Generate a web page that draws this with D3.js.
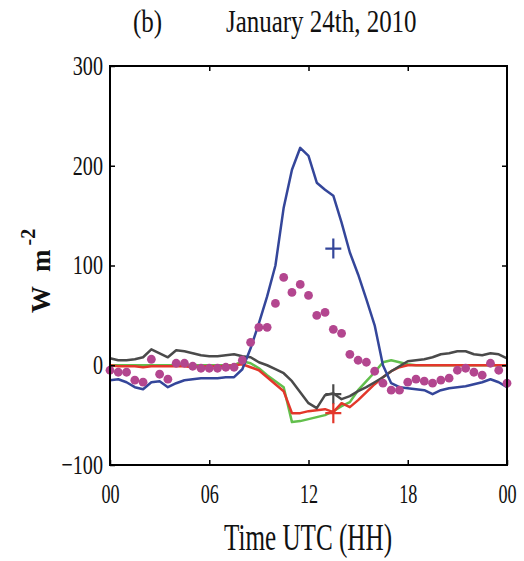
<!DOCTYPE html>
<html>
<head>
<meta charset="utf-8">
<script src="https://cdn.jsdelivr.net/npm/d3@7"></script>
<style>
  body { margin: 0; background: #fff; }
  text { font-family: "Liberation Serif", "Times New Roman", serif; fill: #111; }
</style>
</head>
<body>
<div id="roott"></div>
<script>

// DATA (half hourly, UTC)
let hours = [0,0.5,1,1.5,2,2.5,3,3.5,4,4.5,5,5.5,6,6.5,7,7.5,8,8.5,9,9.5,10,10.5,11,11.5,
  12,12.5,13,13.5,14,14.5,15,15.5,16,16.5,17,17.5,18,18.5,19,19.5,20,20.5,21,21.5,22,22.5,23,23.5,24];

let blueVals = [-15,-14,-17,-22,-24,-17,-16,-22,-18,-15,-14,-13,-13,-13,-12,-12,-4,17,42,69,
  100,158,196,218,210,183,176,170,143,113,91,66,40,0,-18,-22,-23,-24,-25,-29,-25,-23,-22,-21,-19,-17,-14,-17,-22];

let grayVals = [7,5,5,6,8,16,12,8,15,14,12,10,9,9,10,11,9,8,3,0,-4,-8,-16,-27,-38,-43,-30,-28,
  -34,-31,-26,-22,-17,-12,-6,-1,4,5,6,8,11,12,14,14,11,10,12,11,7];

let redVals = [0,-1,-1,-1,-2,-1,-1,-1,-1,-1,-2,-1,-1,-1,-1,0,1,-2,-5,-12,-19,-26,-48,-48,-46,-45,-44,-47,
  -38,-42,-35,-27,-19,-12,-6,-2,0,0,0,0,0,0,0,0,0,0,0,0,0];

let greenVals = [0,0,0,0,0,0,0,0,0,0,0,0,0,0,0,0,4,2,-3,-10,-16,-22,-57,-56,-54,-52,-50,-46,
  -41,-37,-25,-16,-7,3,5,3,1,0,0,0,0,0,0,0,0,0,0,0,0];

let dotVals = [-5,-7,-7,-15,-17,6,-9,-14,2,2,-1,-3,-3,-3,-2,-2,5,23,38,38,62,88,73,81,70,50,53,36,32,11,
  5,3,-6,-18,-25,-25,-17,-14,-16,-18,-15,-13,-5,-3,-7,-10,2,-5,-18];

// single "+" marks at 13:30
let markTime = 13.5;
let markVals = [117, -29, -48];
let markColors = ['#34469a', '#4a4a4a', '#e3372b'];

let xTicks = [0, 6, 12, 18, 24];
let yTicks = [-100, 0, 100, 200, 300];

//DIMENSIONS
const widthh = 524, heightt = 561;
const leftt = 110, rightt = 507, topp = 66, bottomm = 465;

let svg = d3.select('#roott').append('svg')
  .attr('width', widthh).attr('height', heightt)
  .style('background-color', '#fff');

let xScale = d3.scaleLinear().domain([0, 24]).range([leftt, rightt]);
let yScale = d3.scaleLinear().domain([-100, 300]).range([bottomm, topp]);

let line = d3.line().x((d, i) => xScale(hours[i])).y(d => yScale(d));

// lines
let series = [
  {vals: greenVals, color: '#62bf4c'},
  {vals: redVals, color: '#e3372b'},
  {vals: grayVals, color: '#4a4a4a'},
  {vals: blueVals, color: '#34469a'}
];
series.forEach(s => {
  svg.append('path')
    .attr('d', line(s.vals))
    .attr('fill', 'none')
    .attr('stroke', s.color)
    .attr('stroke-width', 2.5)
    .attr('stroke-linejoin', 'round');
});

// dots
svg.selectAll('circle.dot')
  .data(dotVals)
  .enter()
  .append('circle')
  .attr('class', 'dot')
  .attr('cx', (d, i) => xScale(hours[i]))
  .attr('cy', d => yScale(d))
  .attr('r', 4.4)
  .style('fill', '#b3468f');

// plus markers
markVals.forEach((v, i) => {
  let cx = xScale(markTime), cy = yScale(v), h = 8;
  svg.append('path')
    .attr('d', `M${cx - h},${cy}H${cx + h}M${cx},${cy - h - 2}V${cy + h + 2}`)
    .attr('stroke', markColors[i])
    .attr('stroke-width', 2.2);
});

// frame
svg.append('rect')
  .attr('x', leftt).attr('y', topp)
  .attr('width', rightt - leftt).attr('height', bottomm - topp)
  .attr('fill', 'none').attr('stroke', '#000').attr('stroke-width', 2);

// axes, ticks pointing inward
let fmtX = d => d3.format('02d')(d % 24);

svg.append('g')
  .attr('transform', `translate(0, ${bottomm})`)
  .call(d3.axisBottom(xScale).tickValues(xTicks).tickFormat(fmtX).tickSizeInner(-5).tickSizeOuter(0))
  .call(g => {
    g.select('.domain').remove();
    g.selectAll('line').attr('stroke', '#000').attr('stroke-width', 1.5);
    g.selectAll('text')
      .attr('y', 38).attr('dy', 0)
      .attr('transform', 'scale(0.65,1)')
      .style('font-size', '28px');
  });

svg.append('g')
  .attr('transform', `translate(0, ${topp})`)
  .call(d3.axisTop(xScale).tickValues(xTicks.slice(1, -1)).tickFormat('').tickSizeInner(-5).tickSizeOuter(0))
  .call(g => {
    g.select('.domain').remove();
    g.selectAll('line').attr('stroke', '#000').attr('stroke-width', 1.5);
  });

svg.append('g')
  .attr('transform', `translate(${leftt}, 0)`)
  .call(d3.axisLeft(yScale).tickValues(yTicks).tickSizeInner(-5).tickSizeOuter(0))
  .call(g => {
    g.select('.domain').remove();
    g.selectAll('line').attr('stroke', '#000').attr('stroke-width', 1.5);
    g.selectAll('text')
      .attr('x', -7 / 0.72).attr('dy', '0.3em')
      .attr('transform', 'scale(0.72,1)')
      .style('font-size', '28px');
  });

svg.append('g')
  .attr('transform', `translate(${rightt}, 0)`)
  .call(d3.axisRight(yScale).tickValues(yTicks.slice(1, -1)).tickFormat('').tickSizeInner(-5).tickSizeOuter(0))
  .call(g => {
    g.select('.domain').remove();
    g.selectAll('line').attr('stroke', '#000').attr('stroke-width', 1.5);
  });

// titles
svg.append('text')
  .attr('transform', 'translate(133, 32) scale(0.78,1)')
  .style('font-size', '32px')
  .text('(b)');

svg.append('text')
  .attr('transform', 'translate(226, 32) scale(0.78,1)')
  .style('font-size', '32px')
  .text('January 24th, 2010');

svg.append('text')
  .attr('transform', 'translate(308, 550) scale(0.68,1)')
  .attr('text-anchor', 'middle')
  .style('font-size', '37px')
  .text('Time UTC (HH)');

// y label W m^-2
let ylab = svg.append('text')
  .attr('transform', 'translate(50, 313) rotate(-90)')
  .style('font-size', '27px')
  .style('font-weight', 'bold');
ylab.append('tspan').text('W');
ylab.append('tspan').attr('dx', 14).text('m');
ylab.append('tspan').attr('dx', 4).attr('dy', -15).style('font-size', '20px').text('-2');

</script>
</body>
</html>
